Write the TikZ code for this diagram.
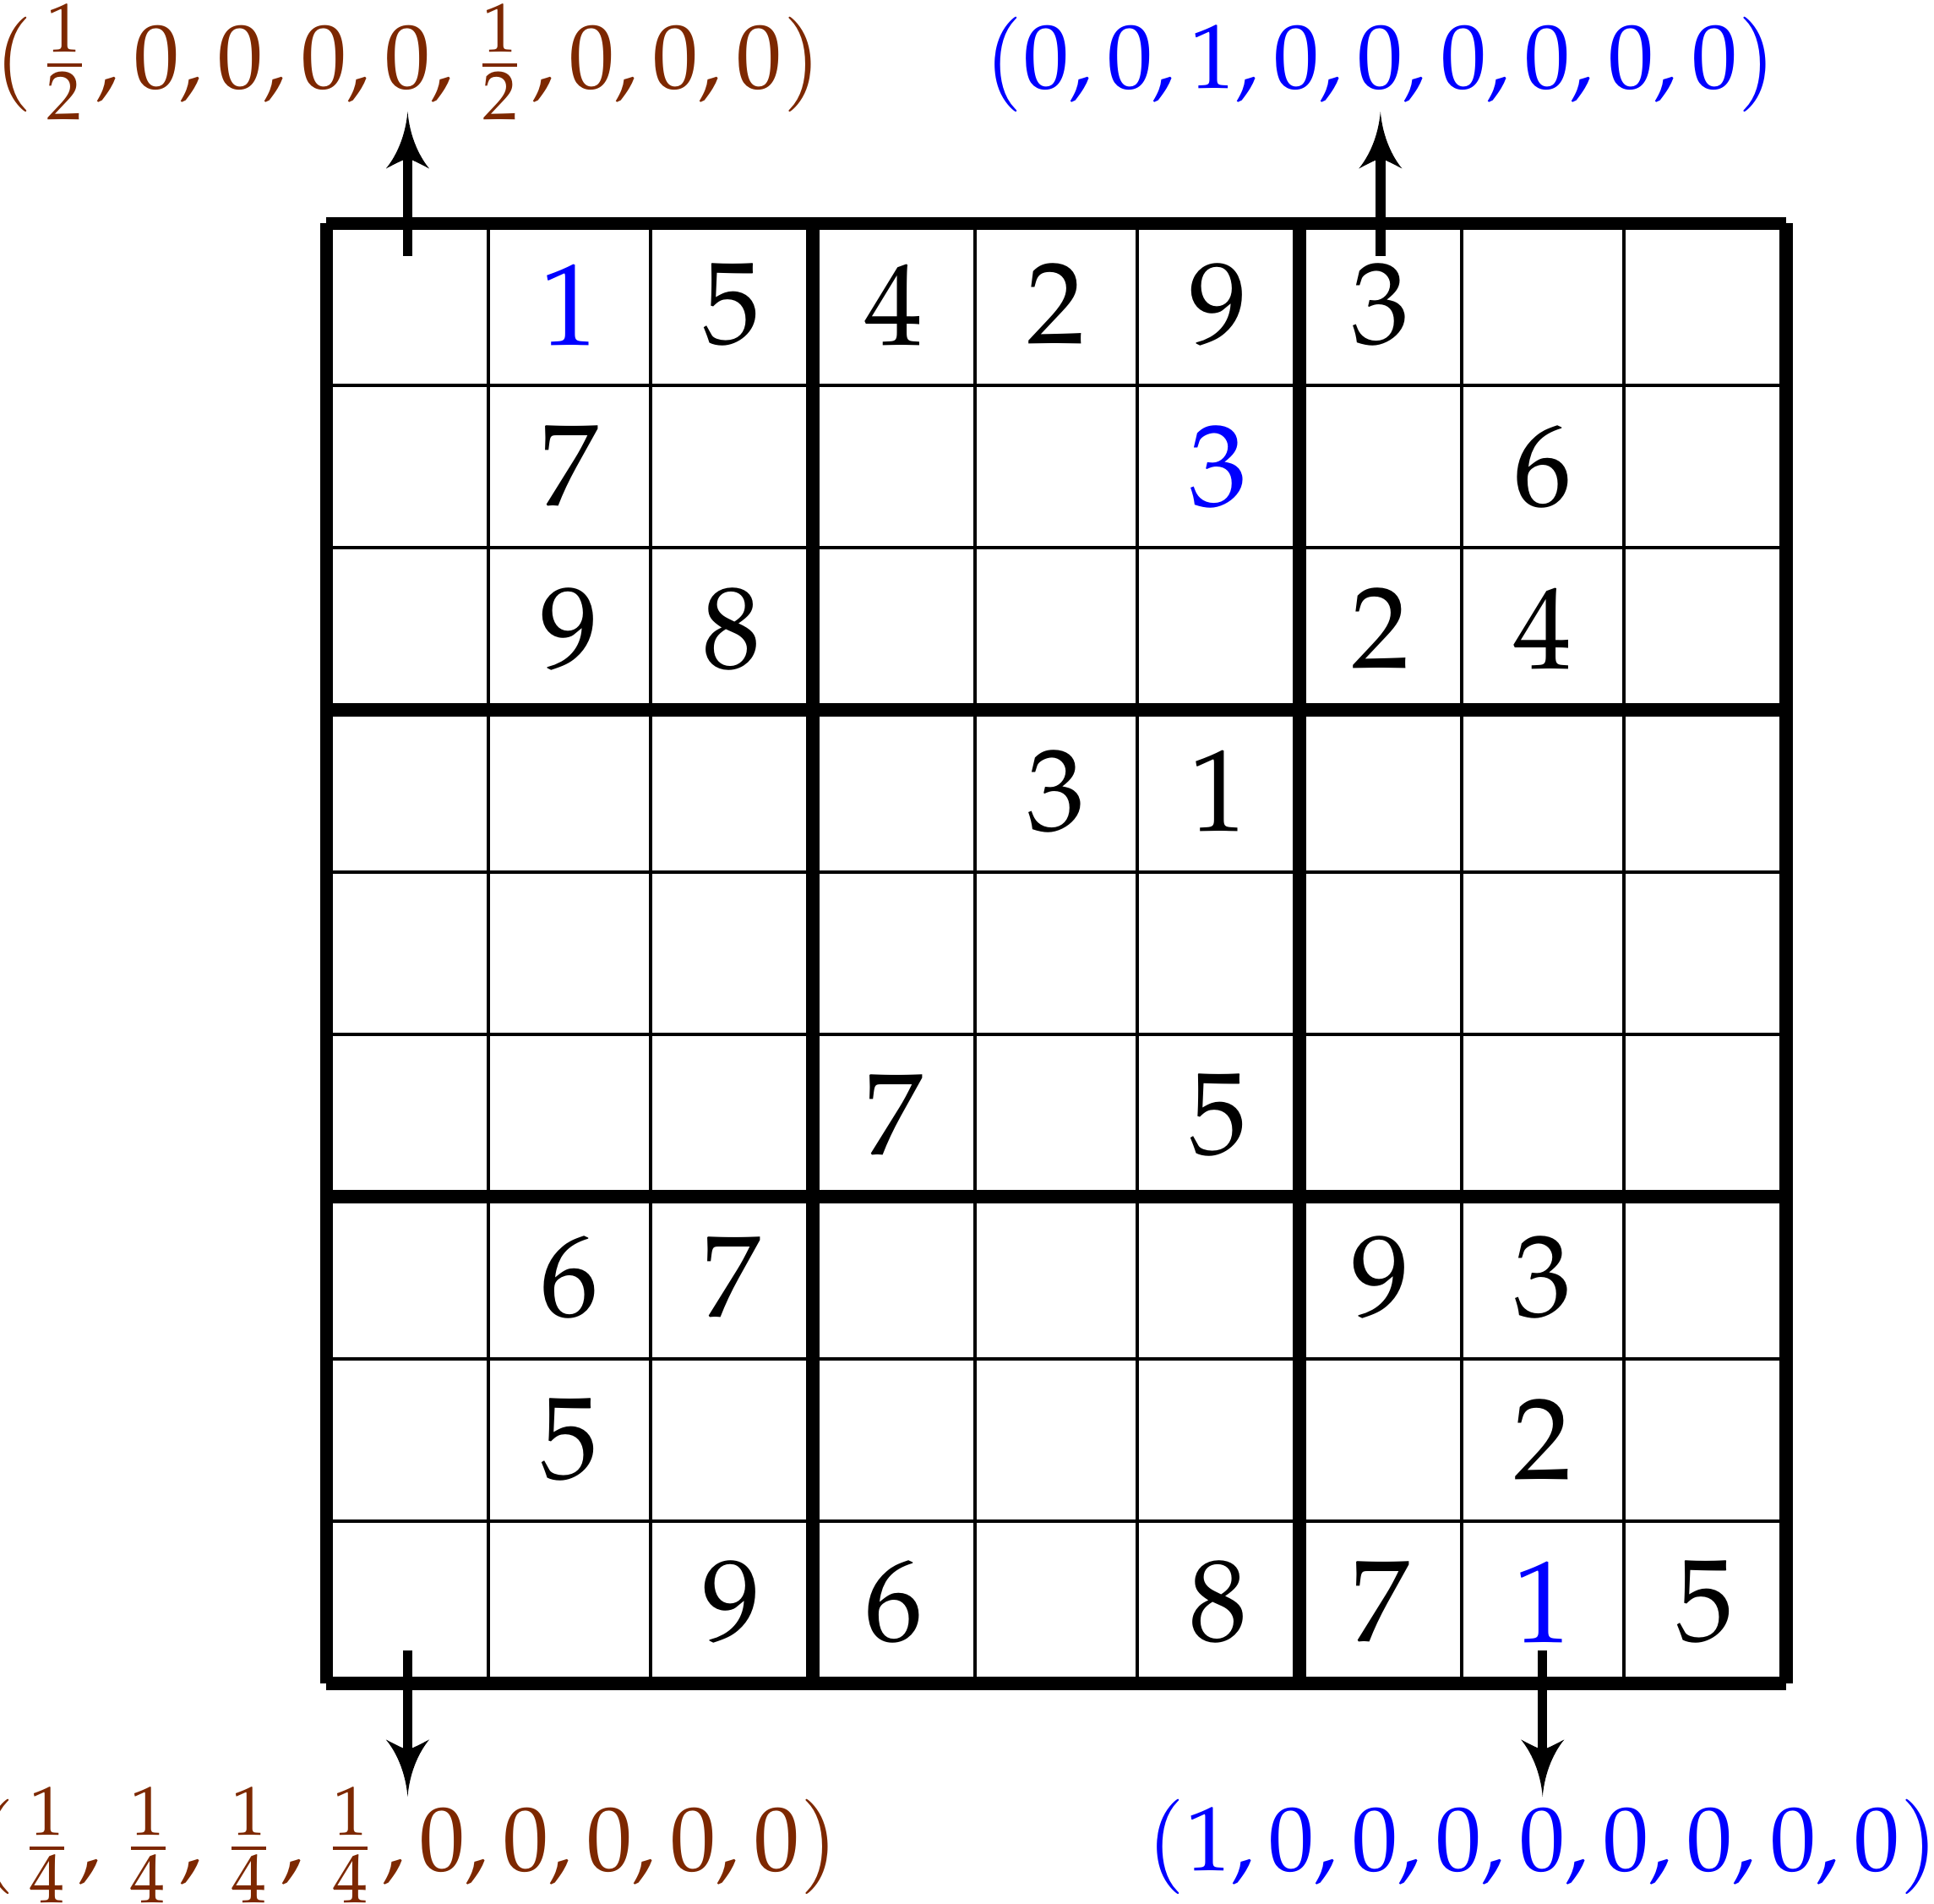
\documentclass[tikz,border=0pt]{standalone}
\usepackage{mathpazo}
\usetikzlibrary{arrows.meta}
\definecolor{lblbrown}{RGB}{125,40,0}
\definecolor{pureblue}{RGB}{0,0,255}

\pgfdeclarearrow{
  name = Cusp,
  parameters = {\the\pgfarrowlength,\the\pgfarrowwidth},
  setup code = {
    \pgfarrowssettipend{\pgfarrowlength}
    \pgfarrowssetbackend{0pt}
    \pgfarrowssetlineend{.3\pgfarrowlength}
    \pgfarrowssavethe\pgfarrowlength
    \pgfarrowssavethe\pgfarrowwidth
  },
  drawing code = {
    \pgfpathmoveto{\pgfqpoint{\pgfarrowlength}{0pt}}
    \pgfpathcurveto{\pgfqpoint{.55\pgfarrowlength}{.05\pgfarrowwidth}}{\pgfqpoint{.2\pgfarrowlength}{.28\pgfarrowwidth}}{\pgfqpoint{0pt}{.5\pgfarrowwidth}}
    \pgfpathcurveto{\pgfqpoint{.08\pgfarrowlength}{.3\pgfarrowwidth}}{\pgfqpoint{.15\pgfarrowlength}{.12\pgfarrowwidth}}{\pgfqpoint{.18\pgfarrowlength}{0pt}}
    \pgfpathcurveto{\pgfqpoint{.15\pgfarrowlength}{-.12\pgfarrowwidth}}{\pgfqpoint{.08\pgfarrowlength}{-.3\pgfarrowwidth}}{\pgfqpoint{0pt}{-.5\pgfarrowwidth}}
    \pgfpathcurveto{\pgfqpoint{.2\pgfarrowlength}{-.28\pgfarrowwidth}}{\pgfqpoint{.55\pgfarrowlength}{-.05\pgfarrowwidth}}{\pgfqpoint{\pgfarrowlength}{0pt}}
    \pgfpathclose
    \pgfusepathqfill
  },
  defaults = {length = 10pt, width = 7.6pt}
}

\tikzset{
  thinrule/.style={line width=0.6pt, line cap=butt},
  thickrule/.style={line width=2.35pt, line cap=butt},
  digit/.style={inner sep=0pt, font=\fontsize{20.4}{24}\selectfont},
  lbl/.style={inner sep=0pt, anchor=base, font=\fontsize{16}{20}\selectfont},
  arr/.style={line width=1.7pt, -{Cusp[length=10pt,width=7.6pt]}}
}

\begin{document}
\begin{tikzpicture}
\useasboundingbox (-2.014,1.378) rectangle (9.914,-10.362);

% grid
\foreach \i in {1,2,4,5,7,8} {
  \draw[thinrule] (\i,0) -- (\i,-9);
  \draw[thinrule] (0,-\i) -- (9,-\i);
}
\foreach \i in {0,3,6,9} {
  \draw[thickrule] (\i,0) -- (\i,-9);
  \draw[thickrule] (0,-\i) -- (9,-\i);
}

% digits
\foreach \r/\c/\d/\k in {
  1/2/1/pureblue, 1/3/5/black, 1/4/4/black, 1/5/2/black, 1/6/9/black, 1/7/3/black,
  2/2/7/black, 2/6/3/pureblue, 2/8/6/black,
  3/2/9/black, 3/3/8/black, 3/7/2/black, 3/8/4/black,
  4/5/3/black, 4/6/1/black,
  6/4/7/black, 6/6/5/black,
  7/2/6/black, 7/3/7/black, 7/7/9/black, 7/8/3/black,
  8/2/5/black, 8/8/2/black,
  9/3/9/black, 9/4/6/black, 9/6/8/black, 9/7/7/black, 9/8/1/pureblue, 9/9/5/black}
{
  \node[digit, text=\k] (d\r\c) at ({\c-0.5},{0.5-\r}) {$\d$};
}

% arrow end points
\coordinate (sTL) at (0.5,-0.2);
\coordinate (tTL) at (0.5,0.69);
\coordinate (sTR) at (6.5,-0.2);
\coordinate (tTR) at (6.5,0.69);
\coordinate (sBL) at (0.5,-8.8);
\coordinate (tBL) at (0.5,-9.70);
\coordinate (sBR) at (7.5,-8.8);
\coordinate (tBR) at (7.5,-9.70);

\draw[arr] (sTL) -- (tTL);
\draw[arr] (sTR) -- (tTR);
\draw[arr] (sBL) -- (tBL);
\draw[arr] (sBR) -- (tBR);

% labels
\node[lbl, text=lblbrown] (lTL) at (0.5,0.836) {$\nulldelimiterspace=2.5pt (\frac{1}{2},0,0,0,0,\frac{1}{2},0,0,0)$};
\node[lbl, text=pureblue] (lTR) at (6.5,0.836) {$(0,0,1,0,0,0,0,0,0)$};
\node[lbl, text=lblbrown] (lBL) at (0.5,-10.159) {$\nulldelimiterspace=2.5pt (\frac{1}{4},\frac{1}{4},\frac{1}{4},\frac{1}{4},0,0,0,0,0)$};
\node[lbl, text=pureblue] (lBR) at (7.5,-10.159) {$(1,0,0,0,0,0,0,0,0)$};
\end{tikzpicture}
\end{document}
